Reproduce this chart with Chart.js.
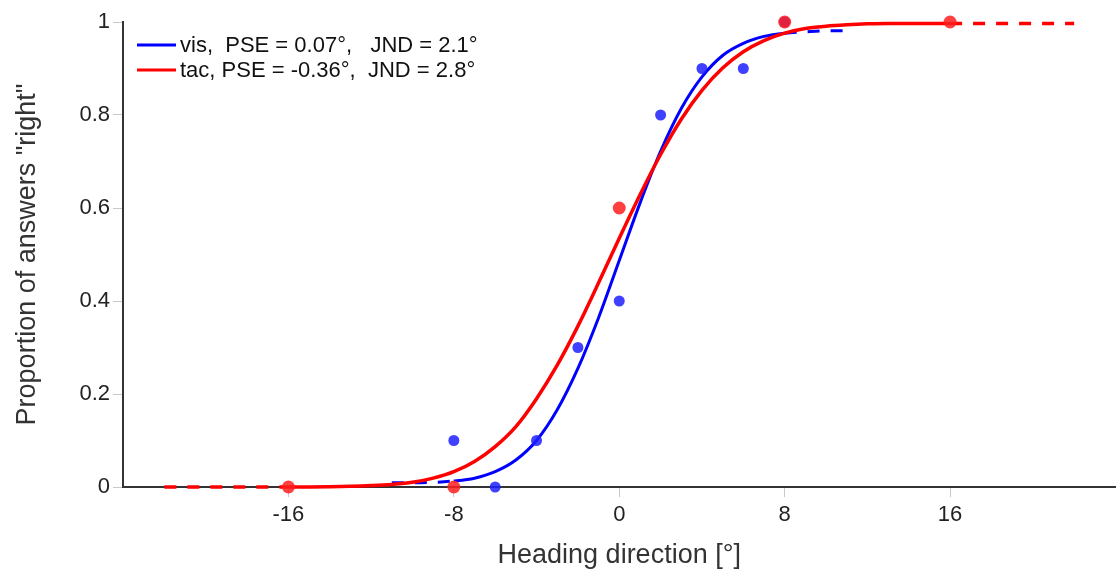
<!DOCTYPE html>
<html>
<head>
<meta charset="utf-8">
<script src="https://cdn.jsdelivr.net/npm/chart.js@4.4.1/dist/chart.umd.min.js"></script>
<style>
  html, body { margin: 0; padding: 0; background: #fff; overflow: hidden; }
  #wrap { width: 1122px; height: 572px; }
</style>
</head>
<body>
<div id="wrap"><canvas id="psychChart"></canvas></div>
<script>
// measured proportions of "right" answers
const visX = [-8, -6, -4, -2, 0, 2, 4, 6, 8];
const visY = [0.1, 0, 0.1, 0.3, 0.4, 0.8, 0.9, 0.9, 1];
const tacX = [-16, -8, 0, 8, 16];
const tacY = [0, 0, 0.6, 1, 1];

// fitted curves (dashed outside the tested range)
const visFitX = [-11, -10, -9, -8, -7, -6, -5, -4, -3, -2, -1, 0, 1, 2, 3, 4, 5, 6, 7, 8, 9, 10, 11];
const visFitY = [0.009, 0.009, 0.010, 0.013, 0.019, 0.033, 0.058, 0.100, 0.166, 0.255, 0.364, 0.487,
                 0.610, 0.722, 0.814, 0.882, 0.928, 0.954, 0.969, 0.976, 0.979, 0.981, 0.981];
const tacFitX = [-22, -21, -20, -19, -18, -17, -16, -15, -14, -13, -12, -11, -10, -9, -8, -7, -6, -5, -4, -3, -2, -1,
                 0, 1, 2, 3, 4, 5, 6, 7, 8, 9, 10, 11, 12, 13, 14, 15, 16, 17, 18, 19, 20, 21, 22];
const tacFitY = [0, 0, 0, 0, 0, 0, 0.0001, 0.0002, 0.0006, 0.0014, 0.003, 0.0055, 0.010, 0.019, 0.033, 0.055,
                 0.087, 0.130, 0.190, 0.262, 0.346, 0.439, 0.535, 0.628, 0.715, 0.791, 0.853, 0.901, 0.936,
                 0.960, 0.976, 0.986, 0.991, 0.994, 0.996, 0.997, 0.997, 0.997, 0.997, 0.997, 0.997, 0.997,
                 0.997, 0.997, 0.997];
const visRange = [-8, 8];
const tacRange = [-16, 16];

const xTicks = [-16, -8, 0, 8, 16];
const yTicks = [0, 0.2, 0.4, 0.6, 0.8, 1];
const legendLabels = ['vis,  PSE = 0.07\u00b0,   JND = 2.1\u00b0', 'tac, PSE = -0.36\u00b0,  JND = 2.8\u00b0'];

const BLUE = '#0000ff';
const RED = '#ff0000';
const FONT = '"Liberation Sans", Arial, sans-serif';

const toPts = (xs, ys) => xs.map((x, i) => ({ x: x, y: ys[i] }));
const dashOutside = range => ctx =>
  (ctx.p0.parsed.x < range[0] || ctx.p1.parsed.x > range[1]) ? [12, 11] : undefined;

// legend drawn inside the plot, top-left
const insideLegend = {
  id: 'insideLegend',
  afterDatasetsDraw(chart) {
    const c = chart.ctx;
    const area = chart.chartArea;
    const colors = [BLUE, RED];
    c.save();
    c.font = '22px ' + FONT;
    c.textBaseline = 'middle';
    c.fillStyle = '#111';
    legendLabels.forEach((txt, i) => {
      const y = area.top + 23 + i * 25;
      c.strokeStyle = colors[i];
      c.lineWidth = 3;
      c.beginPath();
      c.moveTo(area.left + 14, y);
      c.lineTo(area.left + 53, y);
      c.stroke();
      c.fillText(txt, area.left + 57, y + 1);
    });
    c.restore();
  }
};

Chart.defaults.font.family = FONT;
Chart.defaults.color = '#222';

const ctx = document.getElementById('psychChart').getContext('2d');
const chart = new Chart(ctx, {
  type: 'scatter',
  data: {
    datasets: [
      {
        label: 'vis fit',
        data: toPts(visFitX, visFitY),
        showLine: true,
        borderColor: BLUE,
        borderWidth: 3,
        pointRadius: 0,
        cubicInterpolationMode: 'monotone',
        segment: { borderDash: dashOutside(visRange) },
        clip: false,
        order: 4
      },
      {
        label: 'tac fit',
        data: toPts(tacFitX, tacFitY),
        showLine: true,
        borderColor: RED,
        borderWidth: 3.5,
        pointRadius: 0,
        cubicInterpolationMode: 'monotone',
        segment: { borderDash: dashOutside(tacRange) },
        clip: false,
        order: 3
      },
      {
        label: 'vis data',
        data: toPts(visX, visY),
        pointRadius: 5.5,
        pointBackgroundColor: 'rgba(30,30,255,0.85)',
        pointBorderWidth: 0,
        clip: false,
        order: 2
      },
      {
        label: 'tac data',
        data: toPts(tacX, tacY),
        pointRadius: 6.5,
        pointBackgroundColor: 'rgba(255,30,30,0.85)',
        pointBorderWidth: 0,
        clip: false,
        order: 1
      }
    ]
  },
  options: {
    responsive: true,
    maintainAspectRatio: false,
    animation: false,
    layout: { padding: { top: 22, right: 0, bottom: 0, left: 0 } },
    plugins: {
      tooltip: { enabled: false },
      legend: { display: false }
    },
    scales: {
      x: {
        type: 'linear',
        min: -24,
        max: 24,
        afterBuildTicks: s => { s.ticks = xTicks.map(v => ({ value: v })); },
        afterFit: s => { s.height = 85; },
        grid: { drawOnChartArea: false, drawTicks: true, tickLength: 10, tickColor: '#c8c8c8' },
        border: { color: '#333', width: 2, z: -1 },
        ticks: { font: { size: 22 }, color: '#222', padding: 5 },
        title: { display: true, text: 'Heading direction [\u00b0]', font: { size: 27 }, color: '#333', padding: { top: 0, bottom: 0 } }
      },
      y: {
        type: 'linear',
        min: 0,
        max: 1,
        afterBuildTicks: s => { s.ticks = yTicks.map(v => ({ value: v })); },
        afterFit: s => { s.width = 123; },
        grid: { drawOnChartArea: false, drawTicks: true, tickLength: 10, tickColor: '#c8c8c8' },
        border: { color: '#333', width: 2, z: -1 },
        ticks: { font: { size: 22 }, color: '#222', padding: 3, callback: v => String(+v.toFixed(1)) },
        title: { display: true, text: 'Proportion of answers "right"', font: { size: 27 }, color: '#333', padding: { top: 11, bottom: 0 } }
      }
    }
  },
  plugins: [insideLegend]
});
</script>
</body>
</html>
